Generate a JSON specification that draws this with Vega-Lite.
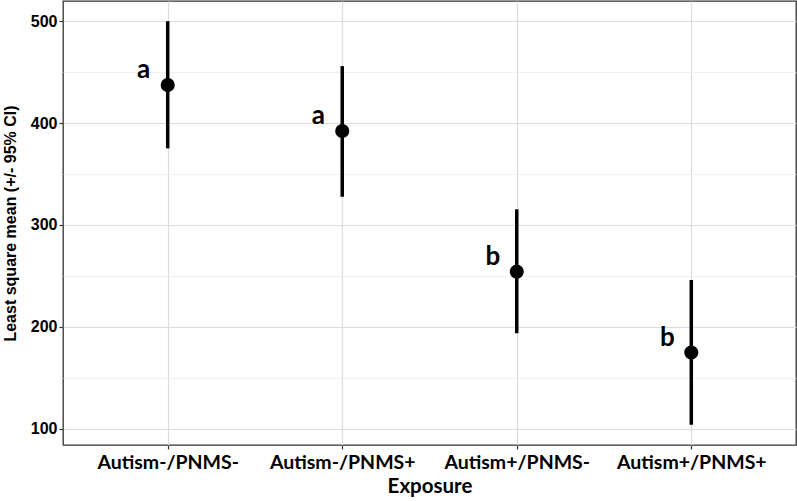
{
  "$schema": "https://vega.github.io/schema/vega-lite/v6.json",
  "width": 733,
  "height": 444,
  "autosize": {"type": "none"},
  "padding": {"left": 63, "top": 1, "right": 1, "bottom": 56},
  "background": "white",
  "config": {
    "view": {"stroke": "#333333", "strokeWidth": 1.3},
    "axis": {"domain": false, "tickColor": "#333333", "tickSize": 4, "tickWidth": 1.2}
  },
  "data": {
    "values": [
      {"exposure": "Autism-/PNMS-", "lsm": 437.3, "lo": 375.2, "hi": 500.0, "group": "a"},
      {"exposure": "Autism-/PNMS+", "lsm": 392.2, "lo": 327.7, "hi": 455.9, "group": "a"},
      {"exposure": "Autism+/PNMS-", "lsm": 254.2, "lo": 193.8, "hi": 315.4, "group": "b"},
      {"exposure": "Autism+/PNMS+", "lsm": 174.8, "lo": 103.9, "hi": 246.0, "group": "b"}
    ]
  },
  "encoding": {
    "x": {
      "field": "exposure",
      "type": "nominal",
      "sort": null,
      "scale": {"type": "point", "padding": 0.6},
      "axis": {
        "title": "Exposure",
        "labelAngle": 0,
        "labelFont": "Lato",
        "labelFontSize": 19.5,
        "labelFontWeight": "bold",
        "labelColor": "black",
        "labelPadding": 4,
        "titleFont": "Lato",
        "titleFontSize": 20.5,
        "titleFontWeight": "bold",
        "titleColor": "black",
        "titlePadding": 5,
        "grid": true,
        "gridColor": "#dcdcdc",
        "gridWidth": 1.2
      }
    }
  },
  "layer": [
    {
      "mark": {"type": "rule", "color": "black", "strokeWidth": 3.5},
      "encoding": {
        "y": {
          "field": "lo",
          "type": "quantitative",
          "title": "Least square mean (+/- 95% CI)",
          "scale": {"domain": [84.1, 519.8], "nice": false, "zero": false},
          "axis": {
            "values": [100, 150, 200, 250, 300, 350, 400, 450, 500],
            "labelExpr": "datum.value % 100 === 0 ? datum.label : ''",
            "labelFont": "Liberation Sans",
            "labelFontSize": 16,
            "labelFontWeight": "bold",
            "labelColor": "black",
            "labelPadding": 2,
            "tickOpacity": {"condition": {"test": "datum.value % 100 === 0", "value": 1}, "value": 0},
            "titleFont": "Liberation Sans",
            "titleFontSize": 16,
            "titleFontWeight": "bold",
            "titleColor": "black",
            "titlePadding": 12,
            "grid": true,
            "gridColor": {"condition": {"test": "datum.value % 100 === 0", "value": "#dcdcdc"}, "value": "#ececec"},
            "gridWidth": {"condition": {"test": "datum.value % 100 === 0", "value": 1.2}, "value": 0.8}
          }
        },
        "y2": {"field": "hi"}
      }
    },
    {
      "mark": {"type": "circle", "color": "black", "size": 200, "opacity": 1},
      "encoding": {
        "y": {"field": "lsm", "type": "quantitative", "title": "Least square mean (+/- 95% CI)"}
      }
    },
    {
      "mark": {"type": "text", "font": "Lato", "fontSize": 26, "fontWeight": "bold", "color": "black", "dx": -24, "dy": -7, "align": "center", "baseline": "alphabetic"},
      "encoding": {
        "y": {"field": "lsm", "type": "quantitative", "title": "Least square mean (+/- 95% CI)"},
        "text": {"field": "group", "type": "nominal"}
      }
    }
  ]
}
